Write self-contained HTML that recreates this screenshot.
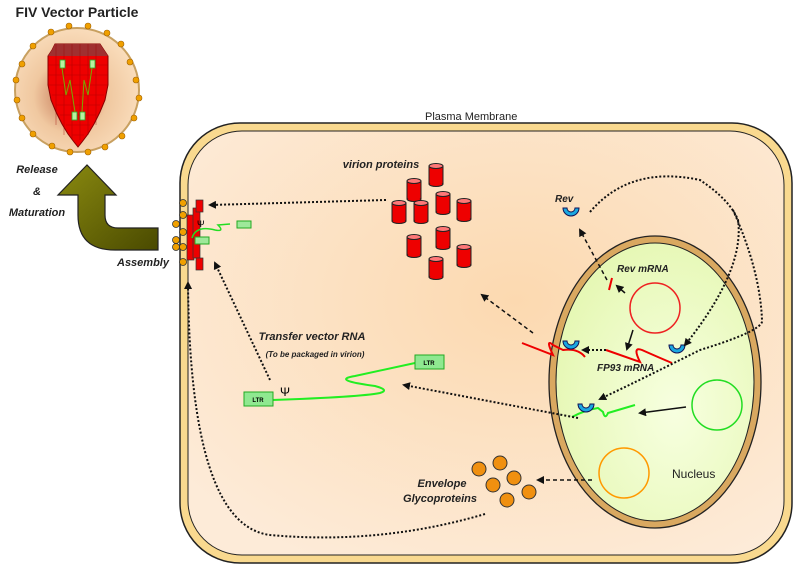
<!DOCTYPE html>
<html><head><meta charset="utf-8"><style>
html,body{margin:0;padding:0;background:#fff}
svg{display:block}
text{font-family:"Liberation Sans",sans-serif}
</style></head><body>
<svg width="800" height="571" viewBox="0 0 800 571" xmlns="http://www.w3.org/2000/svg">
<defs>
<radialGradient id="cg" cx="0.55" cy="0.4" r="0.7">
<stop offset="0" stop-color="#fcd9b0"/><stop offset="1" stop-color="#fdebd8"/></radialGradient>
<radialGradient id="ng" cx="0.6" cy="0.6" r="0.7">
<stop offset="0" stop-color="#f7ffe0"/><stop offset="1" stop-color="#e4f7b0"/></radialGradient>
<radialGradient id="pg" cx="0.45" cy="0.55" r="0.6">
<stop offset="0" stop-color="#c07050"/><stop offset="0.5" stop-color="#f0c8a0"/><stop offset="1" stop-color="#fbe0c0"/></radialGradient>
<linearGradient id="ag" x1="0" y1="0" x2="1" y2="1"><stop offset="0" stop-color="#8a8a10"/><stop offset="1" stop-color="#4a4a00"/></linearGradient>
<marker id="ah" markerWidth="8" markerHeight="8" refX="6" refY="4" orient="auto" markerUnits="userSpaceOnUse"><path d="M0,0 L8,4 L0,8 z" fill="#111"/></marker>
<g id="cyl"><rect x="-7" y="-9" width="14" height="18" fill="#e00" stroke="#222" stroke-width="1"/><ellipse cx="0" cy="9" rx="7" ry="2.5" fill="#e00" stroke="#222" stroke-width="1"/><rect x="-6.5" y="-9" width="13" height="17" fill="#e00"/><ellipse cx="0" cy="-9" rx="7" ry="2.5" fill="#f77" stroke="#222" stroke-width="1"/></g>
<g id="rev"><path d="M-8,-5 A8,8 0 0 0 8,-5 L4,-5 A4,4 0 0 1 -4,-5 z" fill="#1aa8e0" stroke="#115" stroke-width="1"/></g>
</defs>

<rect x="180" y="123" width="612" height="440" rx="60" fill="#f9d98f" stroke="#222" stroke-width="1.5"/>
<rect x="188" y="131" width="596" height="424" rx="54" fill="url(#cg)" stroke="#222" stroke-width="1"/>
<text x="425" y="120" font-size="11" fill="#222">Plasma Membrane</text>

<ellipse cx="655" cy="382" rx="106" ry="146" fill="#d9a860" stroke="#222" stroke-width="1.3"/>
<ellipse cx="655" cy="382" rx="99" ry="139" fill="url(#ng)" stroke="#222" stroke-width="1"/>
<circle cx="655" cy="308" r="25" fill="none" stroke="#e22" stroke-width="1.5"/>
<circle cx="717" cy="405" r="25" fill="none" stroke="#2d2" stroke-width="1.5"/>
<circle cx="624" cy="473" r="25" fill="none" stroke="#f90" stroke-width="1.5"/>
<text x="672" y="478" font-size="12" fill="#222">Nucleus</text>

<circle cx="77" cy="90" r="62" fill="url(#pg)" stroke="#c8a060" stroke-width="2"/>
<g fill="#f0a000" stroke="#a06000" stroke-width="0.6">
<circle cx="69" cy="26" r="3"/><circle cx="88" cy="26" r="3"/><circle cx="107" cy="33" r="3"/><circle cx="121" cy="44" r="3"/><circle cx="130" cy="62" r="3"/><circle cx="136" cy="80" r="3"/><circle cx="139" cy="98" r="3"/><circle cx="134" cy="118" r="3"/><circle cx="122" cy="136" r="3"/><circle cx="105" cy="147" r="3"/><circle cx="88" cy="152" r="3"/><circle cx="70" cy="152" r="3"/><circle cx="52" cy="146" r="3"/><circle cx="33" cy="134" r="3"/><circle cx="22" cy="118" r="3"/><circle cx="17" cy="100" r="3"/><circle cx="16" cy="80" r="3"/><circle cx="22" cy="64" r="3"/><circle cx="33" cy="46" r="3"/><circle cx="51" cy="32" r="3"/>
</g>
<path d="M55,44 L100,44 L104,50 L108,56 L108,85 L105,100 L100,112 L94,124 L88,134 L82,142 L78,147 L74,142 L68,134 L62,124 L56,112 L51,100 L48,85 L48,56 L52,50 z" fill="#e00" stroke="#800" stroke-width="1"/>
<path d="M55,44 L100,44 L104,50 L108,56 L48,56 L52,50 z" fill="#a03030"/>
<g stroke="#900" stroke-width="0.6" opacity="0.6"><path d="M48,65H108M48,75H108M48,85H108M52,95H104M56,105H100M60,115H96M66,125H90M72,135H84M56,44V125M64,44V135M72,44V140M80,44V140M88,44V135M96,44V125"/></g>
<g fill="#b8f0a0" stroke="#2a2" stroke-width="0.8"><rect x="60" y="60" width="5" height="8"/><rect x="90" y="60" width="5" height="8"/><rect x="72" y="112" width="5" height="8"/><rect x="80" y="112" width="5" height="8"/></g>
<path d="M62,68 L66,95 L70,80 L75,112 M92,68 L88,95 L84,80 L82,112" fill="none" stroke="#7a0" stroke-width="1"/>
<text x="77" y="17" font-size="14" font-weight="bold" text-anchor="middle" fill="#222">FIV Vector Particle</text>

<path d="M158,228 L158,250 L115,250 Q78,250 78,215 L78,195 L58,195 L87,165 L116,195 L105,195 L105,215 Q105,228 118,228 z" fill="url(#ag)" stroke="#222" stroke-width="1.2"/>
<g font-size="11" font-weight="bold" font-style="italic" fill="#222" text-anchor="middle">
<text x="37" y="173">Release</text><text x="37" y="195">&amp;</text><text x="37" y="216">Maturation</text>
<text x="143" y="266">Assembly</text></g>

<g fill="#f0a000" stroke="#333" stroke-width="0.8">
<circle cx="183" cy="203" r="3.5"/><circle cx="183" cy="215" r="3.5"/><circle cx="183" cy="232" r="3.5"/><circle cx="183" cy="247" r="3.5"/><circle cx="183" cy="262" r="3.5"/><circle cx="176" cy="224" r="3.5"/><circle cx="176" cy="240" r="3.5"/><circle cx="176" cy="247" r="3.5"/></g>
<g fill="#e00" stroke="#333" stroke-width="0.7">
<rect x="187" y="215" width="7" height="45"/><rect x="193" y="208" width="7" height="50"/><rect x="196" y="200" width="7" height="12"/><rect x="196" y="258" width="7" height="12"/></g>
<text x="197" y="227" font-size="9" font-family="Liberation Serif">Ψ</text>
<path d="M192,238 Q196,225 215,230 Q225,232 218,225 L230,224" fill="none" stroke="#2d2" stroke-width="1.5"/>
<rect x="237" y="221" width="14" height="7" fill="#9ee89a" stroke="#2a2"/>
<rect x="195" y="237" width="14" height="7" fill="#9ee89a" stroke="#2a2"/>

<use href="#cyl" x="436" y="175"/><use href="#cyl" x="414" y="190"/><use href="#cyl" x="443" y="203"/><use href="#cyl" x="464" y="210"/><use href="#cyl" x="399" y="212"/><use href="#cyl" x="421" y="212"/><use href="#cyl" x="443" y="238"/><use href="#cyl" x="414" y="246"/><use href="#cyl" x="464" y="256"/><use href="#cyl" x="436" y="268"/>
<text x="381" y="168" font-size="11" font-weight="bold" font-style="italic" fill="#222" text-anchor="middle">virion proteins</text>

<g fill="#f09010" stroke="#333" stroke-width="1"><circle cx="479" cy="469" r="7"/><circle cx="500" cy="463" r="7"/><circle cx="514" cy="478" r="7"/><circle cx="493" cy="485" r="7"/><circle cx="529" cy="492" r="7"/><circle cx="507" cy="500" r="7"/></g>
<g font-size="11" font-weight="bold" font-style="italic" fill="#222" text-anchor="middle"><text x="442" y="487">Envelope</text><text x="440" y="502">Glycoproteins</text></g>

<text x="312" y="340" font-size="11" font-weight="bold" font-style="italic" fill="#222" text-anchor="middle">Transfer vector RNA</text>
<text x="315" y="357" font-size="8" font-weight="bold" font-style="italic" fill="#222" text-anchor="middle">(To be packaged in virion)</text>
<path d="M272,400 Q360,397 380,393 Q390,390 375,386 Q330,380 355,376 L415,363" fill="none" stroke="#2e2" stroke-width="2"/>
<rect x="244" y="392" width="29" height="14" fill="#8fe890" stroke="#2a2"/><text x="258" y="402" font-size="6" font-weight="bold" text-anchor="middle">LTR</text>
<rect x="415" y="355" width="29" height="14" fill="#8fe890" stroke="#2a2"/><text x="429" y="365" font-size="6" font-weight="bold" text-anchor="middle">LTR</text>
<text x="280" y="396" font-size="12" font-family="Liberation Serif">Ψ</text>

<path d="M522,343 L553,355 Q545,338 553,345 L563,350 Q578,348 585,357" fill="none" stroke="#e00" stroke-width="2"/>
<path d="M606,350 L640,362 Q632,346 642,350 Q660,358 672,363" fill="none" stroke="#e00" stroke-width="2"/>
<path d="M612,278 L609,290" stroke="#e00" stroke-width="2"/>
<path d="M572,417 Q585,410 598,408 L603,412 Q605,420 608,413 L635,405" fill="none" stroke="#2e2" stroke-width="2"/>
<use href="#rev" x="571" y="346"/><use href="#rev" x="677" y="350"/><use href="#rev" x="586" y="409"/><use href="#rev" x="571" y="213"/>
<g font-size="10" font-weight="bold" font-style="italic" fill="#222"><text x="555" y="202">Rev</text><text x="617" y="272">Rev mRNA</text><text x="597" y="371">FP93  mRNA</text></g>

<g fill="none" stroke="#111" stroke-width="1.5" marker-end="url(#ah)">
<path d="M625,293 L617,286"/><path d="M633,330 L627,349"/><path d="M686,407 L640,413"/>
</g>
<g fill="none" stroke="#111" stroke-width="1.5" stroke-dasharray="4,3" marker-end="url(#ah)">
<path d="M607,280 L580,230"/><path d="M533,333 L482,295"/><path d="M592,480 L538,480"/>
</g>
<g fill="none" stroke="#111" stroke-width="2" stroke-dasharray="2,2" marker-end="url(#ah)">
<path d="M386,200 L210,205"/><path d="M270,380 L215,263"/>
<path d="M578,418 L404,385"/>
<path d="M485,514 Q380,545 270,535 Q190,525 188,283"/>
<path d="M590,212 Q630,165 700,180 Q730,200 738,220 Q745,270 685,345"/>
<path d="M733,210 Q760,270 762,320 Q765,330 700,350 Q640,380 600,399"/>
<path d="M606,350 L583,350"/>
</g>
</svg>
</body></html>
